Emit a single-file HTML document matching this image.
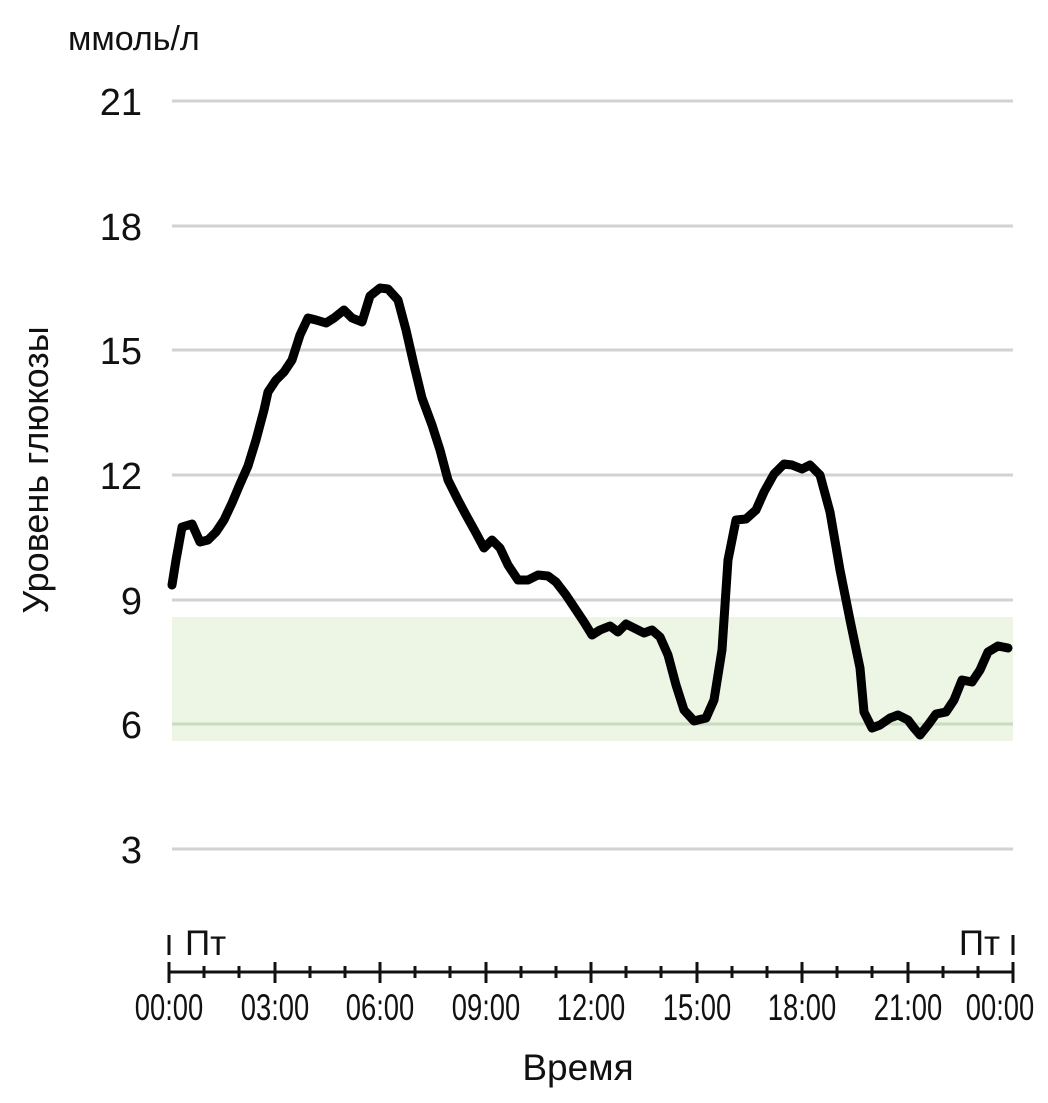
<!DOCTYPE html>
<html><head><meta charset="utf-8"><style>body{margin:0;background:#fff}</style></head><body>
<svg width="1048" height="1098" xmlns="http://www.w3.org/2000/svg" font-family="Liberation Sans, DejaVu Sans, sans-serif">
<rect width="1048" height="1098" fill="#fff"/>
<rect x="172" y="617" width="841" height="124" fill="#edf5e4"/>
<g stroke="#d2d2d2" stroke-width="3">
<line x1="172" y1="101" x2="1013" y2="101"/><line x1="172" y1="226" x2="1013" y2="226"/>
<line x1="172" y1="350" x2="1013" y2="350"/><line x1="172" y1="475" x2="1013" y2="475"/>
<line x1="172" y1="600" x2="1013" y2="600"/><line x1="172" y1="849" x2="1013" y2="849"/>
</g>
<line x1="172" y1="724" x2="1013" y2="724" stroke="#c8dcc0" stroke-width="3"/>
<g font-size="38" fill="#111" text-anchor="end">
<text x="142" y="115">21</text><text x="142" y="240">18</text><text x="142" y="364">15</text>
<text x="142" y="489">12</text><text x="142" y="614">9</text><text x="142" y="738">6</text><text x="142" y="863">3</text>
</g>
<text x="68" y="50" font-size="34" fill="#111">ммоль/л</text>
<text transform="translate(48,470) rotate(-90)" font-size="36" fill="#111" text-anchor="middle">Уровень глюкозы</text>
<text x="578" y="1080" font-size="37" fill="#111" text-anchor="middle">Время</text>
<polyline fill="none" stroke="#000" stroke-width="9" stroke-linejoin="round" stroke-linecap="round" points="172,585 176,560 182,527 192,524 200,542 208,540 216,532 224,520 232,503 240,484 248,466 256,440 264,410 268,392 276,380 284,372 292,360 300,335 308,318 316,320 326,323 334,318 344,310 352,318 362,322 370,296 380,288 388,289 398,300 406,330 414,365 422,398 432,425 440,450 448,480 458,500 466,515 476,533 484,548 492,540 500,548 508,565 518,580 528,580 538,575 548,576 556,582 566,595 574,607 584,622 592,635 600,630 610,626 618,632 626,624 634,628 644,633 652,630 660,637 668,655 676,685 684,710 694,721 706,718 714,700 722,650 728,560 736,520 746,519 756,510 764,492 774,474 784,464 792,465 802,469 810,465 820,475 830,512 840,570 850,620 860,668 864,712 872,728 880,725 890,718 898,715 908,720 914,728 920,735 928,725 936,714 946,712 954,700 962,680 972,682 980,670 988,652 998,646 1008,648"/>
<g stroke="#111" stroke-width="3">
<line x1="169" y1="972" x2="1014" y2="972"/>
<line x1="169" y1="935" x2="169" y2="955"/><line x1="1013" y1="935" x2="1013" y2="955"/>
<line x1="169" y1="962" x2="169" y2="983"/><line x1="275" y1="962" x2="275" y2="983"/><line x1="380" y1="962" x2="380" y2="983"/><line x1="486" y1="962" x2="486" y2="983"/><line x1="591" y1="962" x2="591" y2="983"/><line x1="697" y1="962" x2="697" y2="983"/><line x1="802" y1="962" x2="802" y2="983"/><line x1="908" y1="962" x2="908" y2="983"/><line x1="1013" y1="962" x2="1013" y2="983"/>
<line x1="204" y1="966" x2="204" y2="978"/><line x1="239" y1="966" x2="239" y2="978"/><line x1="310" y1="966" x2="310" y2="978"/><line x1="345" y1="966" x2="345" y2="978"/><line x1="415" y1="966" x2="415" y2="978"/><line x1="450" y1="966" x2="450" y2="978"/><line x1="521" y1="966" x2="521" y2="978"/><line x1="556" y1="966" x2="556" y2="978"/><line x1="626" y1="966" x2="626" y2="978"/><line x1="661" y1="966" x2="661" y2="978"/><line x1="732" y1="966" x2="732" y2="978"/><line x1="767" y1="966" x2="767" y2="978"/><line x1="837" y1="966" x2="837" y2="978"/><line x1="872" y1="966" x2="872" y2="978"/><line x1="943" y1="966" x2="943" y2="978"/><line x1="978" y1="966" x2="978" y2="978"/>
</g>
<text x="185" y="955" font-size="35" fill="#111">Пт</text>
<text x="1000" y="955" font-size="35" fill="#111" text-anchor="end">Пт</text>
<g font-size="37" fill="#111" text-anchor="middle">
<text transform="translate(169,1020) scale(0.74,1)">00:00</text>
<text transform="translate(275,1020) scale(0.74,1)">03:00</text>
<text transform="translate(380,1020) scale(0.74,1)">06:00</text>
<text transform="translate(486,1020) scale(0.74,1)">09:00</text>
<text transform="translate(591,1020) scale(0.74,1)">12:00</text>
<text transform="translate(697,1020) scale(0.74,1)">15:00</text>
<text transform="translate(802,1020) scale(0.74,1)">18:00</text>
<text transform="translate(908,1020) scale(0.74,1)">21:00</text>
<text transform="translate(1000,1020) scale(0.74,1)">00:00</text>
</g>
</svg>
</body></html>
